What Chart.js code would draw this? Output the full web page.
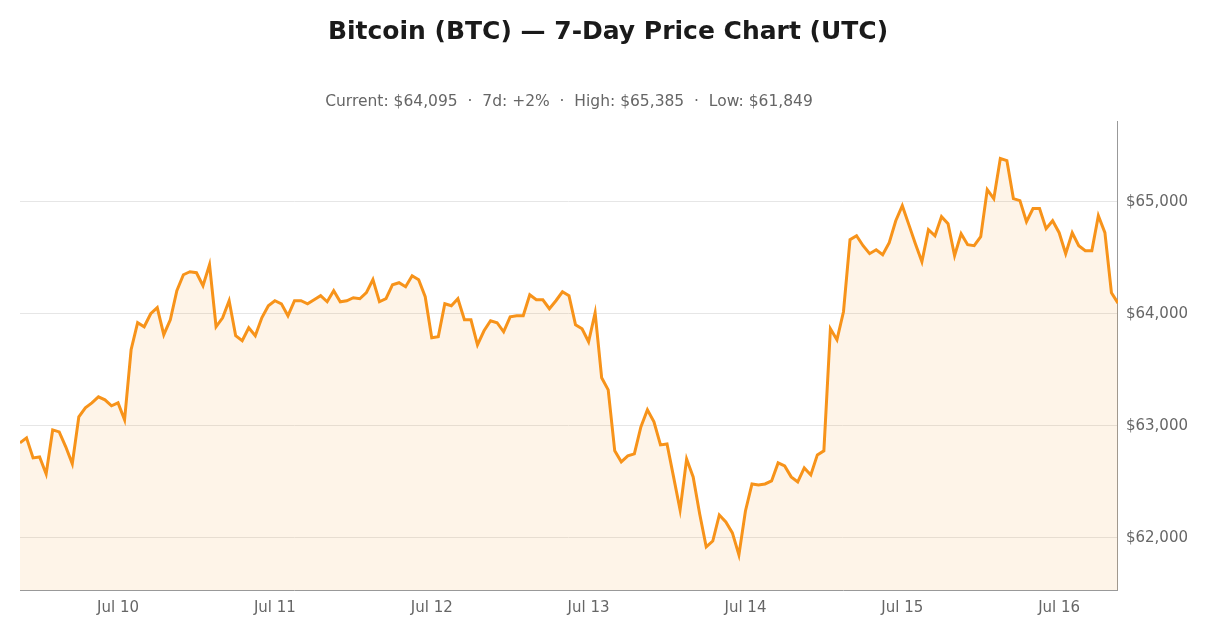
<!DOCTYPE html>
<html>
<head>
<meta charset="utf-8">
<script src="https://cdn.jsdelivr.net/npm/chart.js@4/dist/chart.umd.min.js"></script>
<style>
html,body{margin:0;padding:0;background:#fff;}
#wrap{width:1210px;height:636px;position:relative;}
</style>
</head>
<body>
<div id="wrap"><canvas id="c"></canvas></div>
<script>
// Hourly BTC prices (USD), starting Jul 9 ~09:00 UTC, 169 points
const prices = [
62848,62893,62714,62723,62571,62964,62946,62813,62661,63080,
63161,63205,63259,63232,63179,63205,63054,63679,63920,63884,
64000,64054,63813,63946,64205,64348,64375,64366,64250,64438,
63884,63964,64116,63804,63759,63875,63804,63964,64071,64116,
64089,63982,64116,64116,64089,64125,64161,64107,64205,64107,
64116,64143,64134,64188,64304,64107,64134,64259,64277,64241,
64339,64304,64152,63786,63795,64089,64071,64134,63946,63946,
63723,63848,63938,63920,63839,63973,63982,63982,64170,64125,
64125,64045,64116,64196,64161,63902,63866,63750,64009,63429,
63321,62777,62679,62732,62750,62991,63143,63036,62830,62839,
62545,62250,62705,62545,62214,61920,61973,62205,62143,62045,
61849,62241,62482,62473,62482,62509,62670,62643,62545,62500,
62625,62562,62741,62777,63866,63768,64018,64661,64696,64607,
64536,64571,64527,64634,64830,64964,64795,64625,64464,64750,
64696,64866,64804,64518,64714,64616,64607,64688,65107,65027,
65385,65366,65027,65009,64821,64938,64938,64759,64830,64723,
64536,64723,64607,64562,64562,64875,64723,64188,64095
];
// hour offsets (from first point) of the UTC midnights labelled on the x axis
const tickHours = [15, 39, 63, 87, 111, 135, 159];
const tickLabels = ["Jul 10","Jul 11","Jul 12","Jul 13","Jul 14","Jul 15","Jul 16"];
const yTicks = [62000, 63000, 64000, 65000];
const titleText = "Bitcoin (BTC) \u2014 7-Day Price Chart (UTC)";
const subtitleText = "Current: $64,095  \u00b7  7d: +2%  \u00b7  High: $65,385  \u00b7  Low: $61,849";

const points = prices.map((v, i) => ({x: i, y: v}));
const fontFam = "'DejaVu Sans', sans-serif";

new Chart(document.getElementById('c'), {
  type: 'line',
  data: {
    datasets: [{
      data: points,
      borderColor: '#F7931A',
      backgroundColor: 'rgba(247,147,26,0.1)',
      borderWidth: 3,
      fill: 'origin',
      pointRadius: 0,
      tension: 0
    }]
  },
  options: {
    responsive: true,
    maintainAspectRatio: false,
    animation: false,
    layout: {padding: {left: 20, right: 14, top: 0, bottom: 10}},
    plugins: {
      legend: {display: false},
      tooltip: {enabled: false},
      title: {
        display: true,
        text: titleText,
        color: '#1a1a1a',
        font: {family: fontFam, size: 25, weight: 'bold'},
        padding: {top: 17, bottom: 46}
      },
      subtitle: {
        display: true,
        fullSize: false,
        text: subtitleText,
        color: '#666',
        font: {family: fontFam, size: 15.5},
        padding: {top: 0, bottom: 10}
      }
    },
    scales: {
      x: {
        type: 'linear',
        min: 0,
        max: prices.length - 1,
        grid: {display: false, drawTicks: false},
        border: {display: true, color: '#999'},
        afterBuildTicks: (s) => { s.ticks = tickHours.map(v => ({value: v})); },
        ticks: {
          autoSkip: false,
          maxRotation: 0,
          padding: 9,
          color: '#666',
          font: {family: fontFam, size: 15},
          callback: (v) => { const k = tickHours.indexOf(v); return k >= 0 ? tickLabels[k] : ''; }
        }
      },
      y: {
        position: 'right',
        min: 61536,
        max: 65714,
        grid: {color: '#e6e6e6', drawTicks: false},
        border: {display: true, color: '#999'},
        afterBuildTicks: (s) => { s.ticks = yTicks.map(v => ({value: v})); },
        ticks: {
          padding: 8,
          color: '#666',
          font: {family: fontFam, size: 15},
          callback: (v) => '$' + Number(v).toLocaleString('en-US')
        }
      }
    }
  }
});
</script>
</body>
</html>
